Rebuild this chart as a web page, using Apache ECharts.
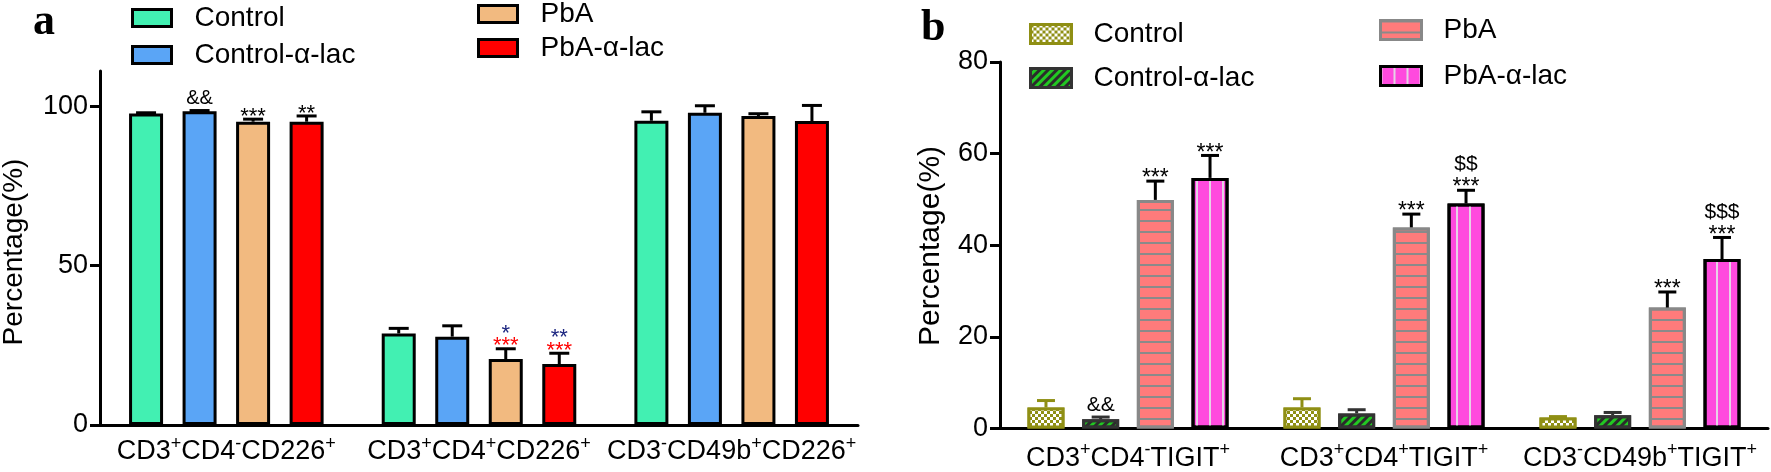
<!DOCTYPE html>
<html><head><meta charset="utf-8">
<script src="https://cdn.jsdelivr.net/npm/echarts@6/dist/echarts.min.js"></script>
<style>html,body{margin:0;padding:0;background:#fff}#c{width:1771px;height:472px}</style>
</head><body><div id="c"></div>
<script>
// ---------- DATA ----------
const categoriesA = ['CD3+CD4-CD226+', 'CD3+CD4+CD226+', 'CD3-CD49b+CD226+'];
const categoriesB = ['CD3+CD4-TIGIT+', 'CD3+CD4+TIGIT+', 'CD3-CD49b+TIGIT+'];
const groupNames = ['Control', 'Control-α-lac', 'PbA', 'PbA-α-lac'];
const ticksA = [0, 50, 100];
const ticksB = [0, 20, 40, 60, 80];

// panel a (means, upper error)
const aControl = [97.7, 28.7, 95.4];
const aControlLac = [98.4, 27.7, 97.9];
const aPbA = [95.1, 20.7, 96.9];
const aPbALac = [95.1, 19.1, 95.3];
const aControlErr = [0.2, 1.6, 2.8];
const aControlLacErr = [0.2, 3.4, 2.2];
const aPbAErr = [0.8, 3.2, 0.7];
const aPbALacErr = [1.8, 3.4, 4.9];
const aSigControl = ['', '', ''];
const aSigControlLac = ['&&', '', ''];
const aSigPbA = ['***', '***', ''];
const aSigPbA2 = ['', '*', ''];
const aSigPbALac = ['**', '***', ''];
const aSigPbALac2 = ['', '**', ''];

// panel b (means, upper error)
const bControl = [4.6, 4.6, 2.4];
const bControlLac = [2.0, 3.3, 2.9];
const bPbA = [49.9, 43.9, 26.4];
const bPbALac = [54.7, 49.1, 37.0];
const bControlErr = [1.5, 1.9, 0.2];
const bControlLacErr = [0.5, 0.8, 0.6];
const bPbAErr = [4.1, 2.9, 3.4];
const bPbALacErr = [4.9, 2.9, 4.7];
const bSigControl = ['', '', ''];
const bSigControlLac = ['&&', '', ''];
const bSigPbA = ['***', '***', '***'];
const bSigPbALac = ['***', '***', '***'];
const bSigPbALac2 = ['', '$$', '$$$'];
const blank = ['', '', ''];

// ---------- STYLE ----------
const FONT = '"Liberation Sans", Arial, Helvetica, sans-serif';
const RED = '#ff0000', NAVY = '#1c2680';
const sigColorA1 = ['#000', RED, '#000'];
const sigColorA2 = ['#000', NAVY, '#000'];
const black3 = ['#000', '#000', '#000'];

const colA = ['#42f0b2', '#5aa5f6', '#f2ba80', '#ff0000'];
const colB = ['#8f8f14', '#22c822', '#ff7b7b', '#ff4ade'];
const borderB = ['#8f8f14', '#333333', '#888888', '#000000'];
const errColB = ['#8f8f14', '#333333', '#000000', '#000000'];
const decalB = [
  {symbol: 'rect', symbolSize: 1, dashArrayX: [[3, 3], [0, 3, 3, 0]], dashArrayY: [3, 0], color: '#ffffff'},
  {symbol: 'rect', symbolSize: 1, dashArrayX: [1, 0], dashArrayY: [3, 3], rotation: -Math.PI / 4, color: '#2b2b2b'},
  {symbol: 'rect', symbolSize: 1, dashArrayX: [1, 0], dashArrayY: [2, 9], color: '#8a8a8a'},
  {symbol: 'rect', symbolSize: 1, dashArrayX: [2, 11], dashArrayY: [1, 0], color: '#e6d2e6'}
];

const BW_A = 34, GAP_A = 0.574;
const BW_B = 37, GAP_B = 0.478;

function richLabel(s) {
  return s.replace(/([^+\-]+)|([+\-])/g, (m, a, b) => a ? '{n|' + a + '}' : '{s|' + b + '}');
}
const isStar = s => /^\*+$/.test(s);

function errSeries(axis, idx, values, errs, sig1, sig2, c1arr, c2arr, color, bw, gap, cap, starFs, otherFs) {
  const offset = (idx - 1.5) * bw * (1 + gap);
  return {
    type: 'custom', xAxisIndex: axis, yAxisIndex: axis, z: 5, silent: true,
    data: values.map((v, i) => [i, v, errs[i]]),
    renderItem: function (params, api) {
      const i = params.dataIndex;
      const v = api.value(1), e = api.value(2);
      const p0 = api.coord([api.value(0), v]);
      const p1 = api.coord([api.value(0), v + e]);
      const x = p0[0] + offset;
      const ch = [
        {type: 'line', shape: {x1: x, y1: p0[1], x2: x, y2: p1[1]}, style: {stroke: color, lineWidth: 3}},
        {type: 'line', shape: {x1: x - cap / 2, y1: p1[1], x2: x + cap / 2, y2: p1[1]}, style: {stroke: color, lineWidth: 3}}
      ];
      const s1 = sig1[i], s2 = sig2[i];
      if (s1) {
        const fs1 = isStar(s1) ? starFs : otherFs;
        const cen1 = p1[1] - (isStar(s1) ? 8 : 12);
        ch.push({type: 'text', style: {x: x, y: cen1 + (isStar(s1) ? 0.25 * fs1 : 0), text: s1, fill: c1arr[i],
          fontSize: fs1, fontFamily: FONT, align: 'center', verticalAlign: 'middle'}});
        if (s2) {
          const fs2 = isStar(s2) ? starFs : otherFs;
          const cen2 = cen1 - (isStar(s2) ? 12.7 : 17.7);
          ch.push({type: 'text', style: {x: x, y: cen2 + (isStar(s2) ? 0.25 * fs2 : 0), text: s2, fill: c2arr[i],
            fontSize: fs2, fontFamily: FONT, align: 'center', verticalAlign: 'middle'}});
        }
      }
      return {type: 'group', children: ch};
    }
  };
}

const valsA = [aControl, aControlLac, aPbA, aPbALac];
const errsA = [aControlErr, aControlLacErr, aPbAErr, aPbALacErr];
const sigsA = [aSigControl, aSigControlLac, aSigPbA, aSigPbALac];
const sigs2A = [blank, blank, aSigPbA2, aSigPbALac2];
const valsB = [bControl, bControlLac, bPbA, bPbALac];
const errsB = [bControlErr, bControlLacErr, bPbAErr, bPbALacErr];
const sigsB = [bSigControl, bSigControlLac, bSigPbA, bSigPbALac];
const sigs2B = [blank, blank, blank, bSigPbALac2];

const series = [];
groupNames.forEach((g, k) => {
  series.push({
    type: 'bar', name: 'a::' + g, xAxisIndex: 0, yAxisIndex: 0, data: valsA[k],
    barWidth: BW_A, barGap: (GAP_A * 100) + '%', silent: true,
    itemStyle: {color: colA[k], borderColor: '#000', borderWidth: 3}
  });
});
groupNames.forEach((g, k) => {
  series.push({
    type: 'bar', name: 'b::' + g, xAxisIndex: 1, yAxisIndex: 1, data: valsB[k],
    barWidth: BW_B, barGap: (GAP_B * 100) + '%', silent: true,
    itemStyle: {color: colB[k], borderColor: borderB[k], borderWidth: 3, decal: decalB[k]}
  });
});
groupNames.forEach((g, k) => {
  series.push(errSeries(0, k, valsA[k], errsA[k], sigsA[k], sigs2A[k], sigColorA1, sigColorA2, '#000', BW_A, GAP_A, 20, 22, 20));
  series.push(errSeries(1, k, valsB[k], errsB[k], sigsB[k], sigs2B[k], black3, black3, errColB[k], BW_B, GAP_B, 18, 23, 21));
});

function mkLegend(name, left, cy, iw, ih, pad) {
  return {
    data: [{name: name, icon: 'rect'}], left: left, top: cy - 16, orient: 'vertical', padding: 0, itemGap: 0,
    itemWidth: iw, itemHeight: ih, selectedMode: false, icon: 'rect',
    formatter: n => n.split('::')[1],
    itemStyle: {borderWidth: 3},
    textStyle: {fontSize: 28, lineHeight: 32, color: '#000', fontFamily: FONT, padding: [0, 0, 0, pad]}
  };
}

function xAxisCfg(grid, cats, margin) {
  return {
    gridIndex: grid, type: 'category', data: cats,
    axisLine: {lineStyle: {color: '#000', width: 3}},
    axisTick: {alignWithLabel: true, length: 11, lineStyle: {color: '#000', width: 3}},
    axisLabel: {interval: 0, margin: margin, formatter: richLabel,
      rich: {
        n: {fontSize: 27, lineHeight: 34, color: '#000', fontFamily: FONT},
        s: {fontSize: 18, lineHeight: 18, verticalAlign: 'top', color: '#000', fontFamily: FONT}
      }},
    splitLine: {show: false}
  };
}
function yAxisCfg(grid, max, ticks) {
  return {
    gridIndex: grid, type: 'value', min: 0, max: max,
    axisLine: {show: true, lineStyle: {color: '#000', width: 3}},
    axisTick: {show: true, length: 10, customValues: ticks, lineStyle: {color: '#000', width: 3}},
    axisLabel: {customValues: ticks, fontSize: 27, color: '#000', fontFamily: FONT, margin: 12},
    splitLine: {show: false}
  };
}

const option = {
  animation: false,
  backgroundColor: '#fff',
  grid: [
    {left: 100, top: 71, width: 758, height: 354},
    {left: 1000, top: 62, width: 768, height: 369}
  ],
  xAxis: [xAxisCfg(0, categoriesA, 10), xAxisCfg(1, categoriesB, 13)],
  yAxis: [yAxisCfg(0, 111, ticksA), yAxisCfg(1, 80, ticksB)],
  legend: [
    mkLegend('a::' + groupNames[0], 131, 18, 39, 17, 18),
    mkLegend('a::' + groupNames[1], 131, 55, 39, 17, 18),
    mkLegend('a::' + groupNames[2], 477, 14, 39, 17, 18),
    mkLegend('a::' + groupNames[3], 477, 48, 39, 17, 18),
    mkLegend('b::' + groupNames[0], 1029, 34, 41, 19, 17),
    mkLegend('b::' + groupNames[1], 1029, 78, 41, 19, 17),
    mkLegend('b::' + groupNames[2], 1379, 30, 41, 19, 17),
    mkLegend('b::' + groupNames[3], 1379, 76, 41, 19, 17)
  ],
  graphic: [
    {type: 'text', x: 33, y: 23, style: {text: 'a', font: 'bold 44px "Liberation Serif", "Times New Roman", serif', fill: '#000', verticalAlign: 'middle'}},
    {type: 'text', x: 921, y: 29, style: {text: 'b', font: 'bold 44px "Liberation Serif", "Times New Roman", serif', fill: '#000', verticalAlign: 'middle'}},
    {type: 'text', x: 14, y: 252, rotation: Math.PI / 2, style: {text: 'Percentage(%)', font: '28px ' + FONT, fill: '#000', align: 'center', verticalAlign: 'middle'}},
    {type: 'text', x: 931, y: 246, rotation: Math.PI / 2, style: {text: 'Percentage(%)', font: '30px ' + FONT, fill: '#000', align: 'center', verticalAlign: 'middle'}}
  ],
  series: series
};
const chart = echarts.init(document.getElementById('c'), null, {renderer: 'canvas'});
chart.setOption(option);
</script></body></html>
